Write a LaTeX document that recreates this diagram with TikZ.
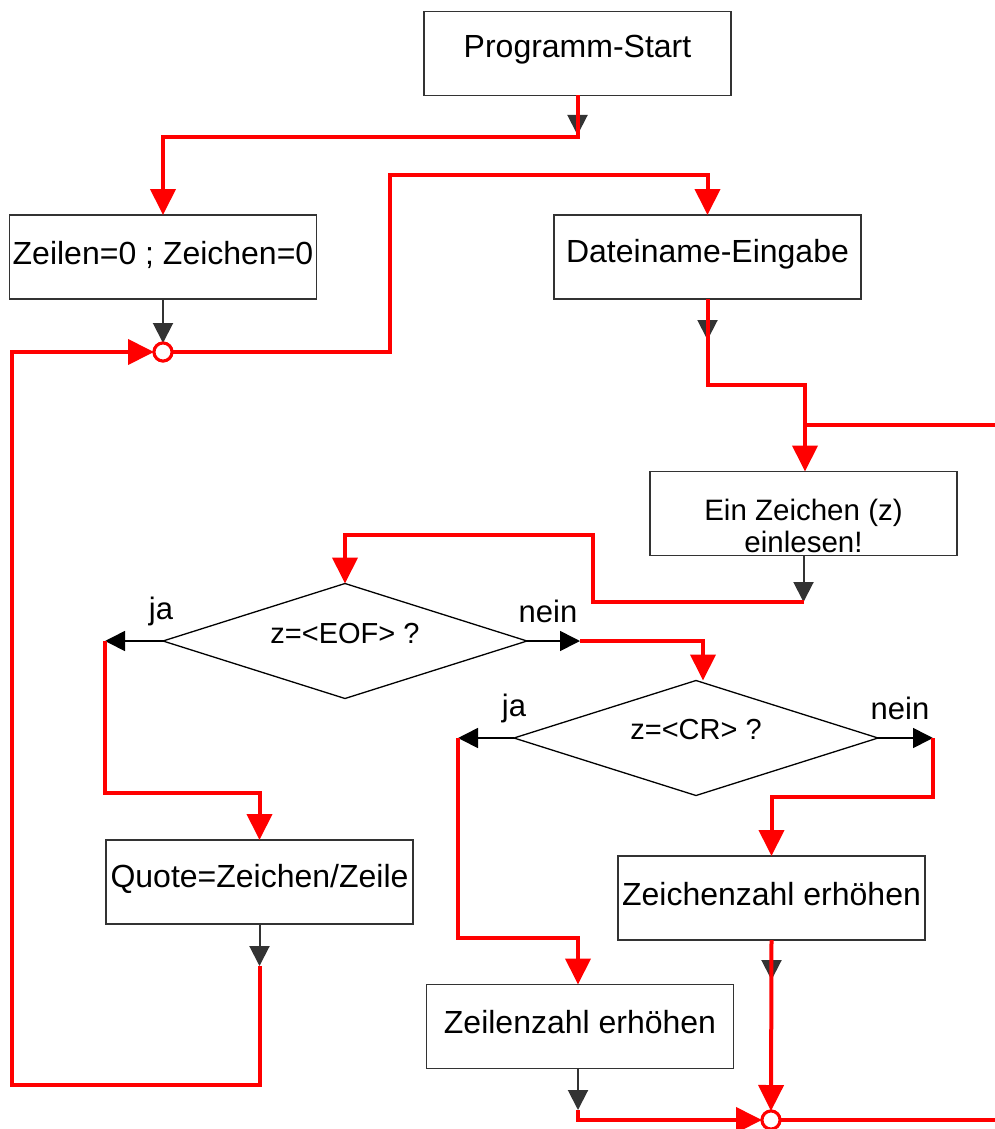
\documentclass[tikz,border=0pt]{standalone}
\usepackage{fontspec}
\setmainfont{Liberation Sans}
\usetikzlibrary{arrows.meta,shapes.geometric}
\definecolor{boxgray}{HTML}{333333}
\definecolor{lred}{HTML}{FF0000}
\newcommand\vshift[2]{\raisebox{#1}[\height][\depth]{#2}}
\begin{document}
\begin{tikzpicture}[x=1pt,y=-1pt,
  box/.style={draw=boxgray, line width=1.5pt, fill=white, minimum width=307pt, minimum height=84pt, inner sep=0pt, outer sep=0pt, font=\fontsize{32}{36}\selectfont},
  dia/.style={draw=black, line width=1.3pt, fill=white, diamond, aspect=3.17, minimum width=364pt, minimum height=115pt, inner sep=0pt, outer sep=0pt, font=\fontsize{29}{32}\selectfont},
  junc/.style={circle, draw=lred, line width=3pt, fill=white, minimum size=18pt, inner sep=0pt, outer sep=0pt},
  garrow/.style={draw=boxgray, line width=2pt, -{Triangle[length=20pt,width=20pt]}},
  barrow/.style={draw=black, line width=1.6pt, -{Triangle[length=20pt,width=20pt]}},
  rline/.style={draw=lred, line width=4pt},
  rarrow/.style={rline, -{Triangle[length=26pt,width=25pt]}},
  lab/.style={font=\fontsize{31}{34}\selectfont, inner sep=0pt}
]
\useasboundingbox (0,0) rectangle (995,1129);

% boxes
\node[box] (start) at (577.5,53.5) {\vshift{4pt}{Programm-Start}};
\node[box] (init) at (163,257) {\vshift{2pt}{Zeilen=0 ; Zeichen=0}};
\node[box] (name) at (707.5,257) {\vshift{3pt}{Dateiname-Eingabe}};
\node[box, font=\fontsize{29.5}{31}\selectfont] (read) at (803.5,513.5) {\vshift{-17pt}{\begin{tabular}{@{}c@{}}Ein Zeichen (z)\\[1pt]einlesen!\end{tabular}}};
\node[dia] (eof) at (345,641) {\vshift{7pt}{z=<EOF> ?}};
\node[dia] (cr) at (696,738) {\vshift{8pt}{z=<CR> ?}};
\node[box] (quote) at (259.5,882) {\vshift{3pt}{Quote=Zeichen/Zeile}};
\node[box] (zz) at (771.5,898) {\vshift{4pt}{Zeichenzahl erhöhen}};
\node[box] (lz) at (580,1026.5) {\vshift{4pt}{Zeilenzahl erhöhen}};

% junctions
\node[junc] (j1) at (163,352) {};
\node[junc] (j2) at (771,1120) {};

% labels
\node[lab] (ja1) at (161,611) {ja};
\node[lab] (nein1) at (548,611) {nein};
\node[lab] (ja2) at (514,708) {ja};
\node[lab] (nein2) at (900,708) {nein};

% helper coordinates
\coordinate (a1) at (577.5,137);
\coordinate (a2) at (390,175);
\coordinate (a3) at (707.5,385);
\coordinate (loopin) at (995,425);
\coordinate (a4) at (803.5,602);
\coordinate (a5) at (593,535);
\coordinate (eofja) at (105,641);
\coordinate (eofnein) at (580,641);
\coordinate (crja) at (458,738);
\coordinate (crnein) at (933,738);
\coordinate (qend) at (259.5,966);
\coordinate (q2) at (259.5,1085);
\coordinate (q3) at (12,1085);
\coordinate (lend) at (578,1110);
\coordinate (out) at (995,1120);

% gray arrows
\draw[garrow] (start.south) -- (577.5,135);
\draw[garrow] (init.south) -- (j1.north);
\draw[garrow] (name.south) -- (707.5,340);
\draw[garrow] (read.south) -- (a4);
\draw[garrow] (quote.south) -- (qend);
\draw[garrow] (zz.south) -- (771.5,980);
\draw[garrow] ([xshift=-2pt]lz.south) -- (lend);

% black decision arrows
\draw[barrow] (eof.west) -- (eofja);
\draw[barrow] (eof.east) -- (eofnein);
\draw[barrow] (cr.west) -- (crja);
\draw[barrow] (cr.east) -- (crnein);

% red flow lines
\draw[rarrow] (start.south) -- (a1) -| (init.north);
\draw[rarrow] (j1.east) -| (a2) -| (name.north);
\draw[rarrow] (name.south) -- (a3) -| ([xshift=1.5pt]read.north);
\draw[rline] (loopin) -- ([xshift=1.5pt]read.north |- loopin);
\draw[rarrow] (a4) -| (a5) -| (eof.north);
\draw[rarrow] (eofja) |- (105,793) -| (quote.north);
\draw[rarrow] (eofnein) -| ([xshift=7pt]cr.north);
\draw[rarrow] (crja) |- (458,938) -| ([xshift=-2pt]lz.north);
\draw[rarrow] (crnein) |- (933,797) -| (zz.north);
\draw[rarrow] (qend) -- (q2) -- (q3) |- (j1.west);
\draw[rarrow] (zz.south) -- (j2.north);
\draw[rarrow] (lend) |- (j2.west);
\draw[rline] (j2.east) -- (out);

% redraw junctions on top
\node[junc] at (j1) {};
\node[junc] at (j2) {};
\end{tikzpicture}
\end{document}
